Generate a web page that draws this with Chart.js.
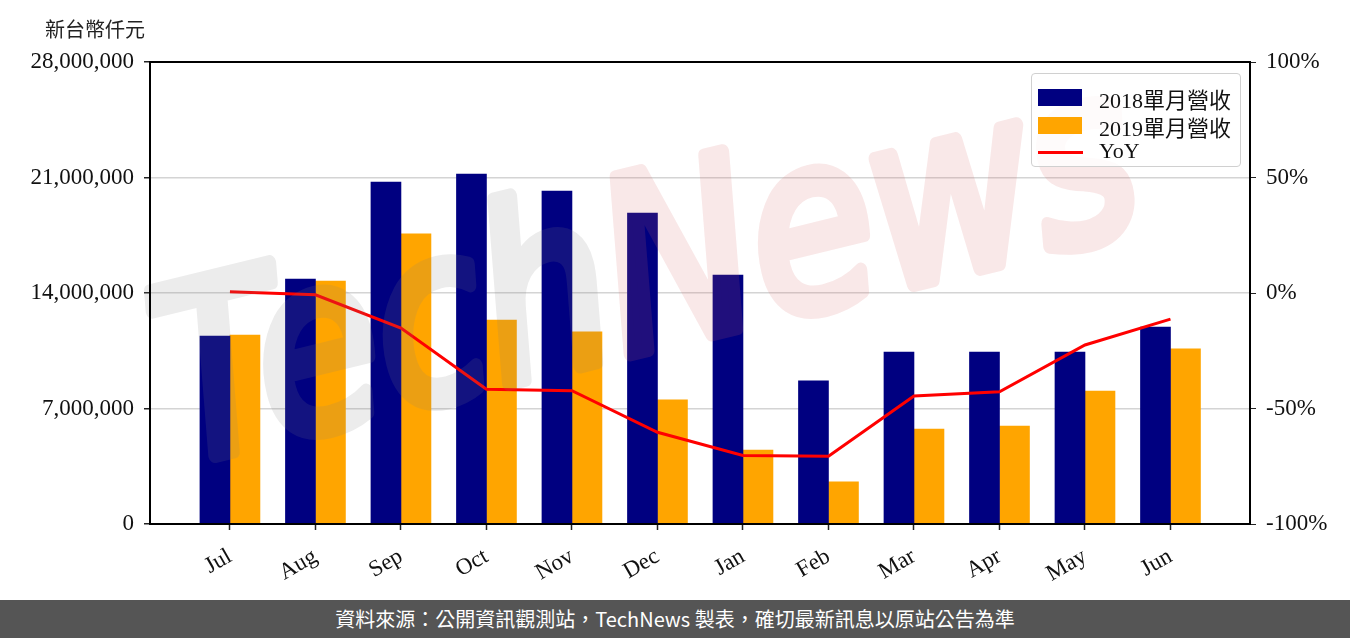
<!DOCTYPE html>
<html>
<head>
<meta charset="utf-8">
<script src="https://cdn.jsdelivr.net/npm/chart.js@4.4.1/dist/chart.umd.min.js"></script>
<style>
  body { margin: 0; background: #fff; width: 1350px; height: 638px; overflow: hidden; position: relative; }
  #wrap { position: absolute; left: 0; top: 0; width: 1350px; height: 600px; }
  #unit { position: absolute; left: 45px; top: 14px; font: 20px 'Noto Sans CJK TC'; color: #222; }
  #legend { position: absolute; left: 1031px; top: 73px; width: 208px; height: 92px; border: 1.5px solid #d0d0d0; border-radius: 4px; background: rgba(255,255,255,0.8); }
  .item { position: absolute; left: 6px; height: 28px; width: 200px; font: 22px 'Liberation Serif', 'Noto Sans CJK TC'; color: #111; }
  .item .sw { position: absolute; left: 0; }
  .item span { position: absolute; left: 61px; top: 0px; }
  #footer { position: absolute; left: 0; top: 600px; width: 1350px; height: 38px; background: #555; color: #fff; font: 20px 'Noto Sans CJK TC'; text-align: center; line-height: 38px; }
</style>
</head>
<body>
<div id="wrap"><canvas id="chart"></canvas></div>
<div id="unit">新台幣仟元</div>
<div id="legend"></div>
<div id="footer">資料來源：公開資訊觀測站，TechNews 製表，確切最新訊息以原站公告為準</div>
<script>
const months = ['Jul', 'Aug', 'Sep', 'Oct', 'Nov', 'Dec', 'Jan', 'Feb', 'Mar', 'Apr', 'May', 'Jun'];
const rev2018 = [11390000, 14850000, 20730000, 21210000, 20180000, 18850000, 15090000, 8670000, 10420000, 10420000, 10420000, 11940000];
const rev2019 = [11450000, 14730000, 17580000, 12360000, 11640000, 7520000, 4480000, 2550000, 5760000, 5940000, 8060000, 10610000];
const yoy = [0.5, -0.8, -15.2, -41.7, -42.3, -60.3, -70.3, -70.7, -44.6, -42.8, -22.5, -11.3];
const seriesNames = ['2018單月營收', '2019單月營收', 'YoY'];

const navy = '#000080';
const orange = '#ffa500';
const red = '#ff0000';
const serif = "'Liberation Serif', 'DejaVu Serif', serif";

// legend in html
const legend = document.getElementById('legend');
[[navy, 'box'], [orange, 'box'], [red, 'line']].forEach((s, i) => {
  const div = document.createElement('div');
  div.className = 'item';
  div.style.top = (8 + i * 28) + 'px';
  const sw = document.createElement('div');
  sw.className = 'sw';
  if (s[1] === 'box') {
    sw.style.cssText = `top:7px;width:44px;height:17px;background:${s[0]}`;
  } else {
    sw.style.cssText = `top:13px;width:45px;height:3px;background:${s[0]}`;
  }
  const t = document.createElement('span');
  t.textContent = seriesNames[i];
  div.appendChild(sw);
  div.appendChild(t);
  legend.appendChild(div);
});

const xy = arr => arr.map((v, i) => ({ x: i, y: v }));

// watermark drawn once on a side canvas, then laid over the plot with alpha
function makeMark(w, h) {
  const c = document.createElement('canvas');
  c.width = w; c.height = h;
  const g = c.getContext('2d');
  g.translate(650, 285);
  g.rotate(-0.24);
  g.scale(1.0, 1.2);
  g.font = "italic 200px 'DejaVu Sans'";
  g.textBaseline = 'middle';
  g.lineJoin = 'round';
  g.lineWidth = 12;
  const wT = g.measureText('Tech').width;
  const wN = g.measureText('News').width;
  const x0 = -(wT + wN) / 2;
  g.fillStyle = g.strokeStyle = '#808080';
  g.fillText('Tech', x0, 0);
  g.strokeText('Tech', x0, 0);
  g.fillStyle = g.strokeStyle = '#d76666';
  g.fillText('News', x0 + wT, 0);
  g.strokeText('News', x0 + wT, 0);
  return c;
}

// box round the plot + watermark
const frame = {
  id: 'frame',
  afterDraw(chart) {
    const { ctx, chartArea: a } = chart;
    ctx.save();
    ctx.globalAlpha = 0.15;
    ctx.drawImage(makeMark(chart.width, chart.height), 0, 0);
    ctx.restore();

    ctx.save();
    ctx.strokeStyle = '#000';
    ctx.lineWidth = 2;
    ctx.strokeRect(a.left, a.top, a.right - a.left, a.bottom - a.top);
    ctx.restore();
  }
};

new Chart(document.getElementById('chart'), {
  type: 'bar',
  data: {
    datasets: [
      { type: 'line', label: seriesNames[2], data: xy(yoy), yAxisID: 'y1', borderColor: red, borderWidth: 3, pointRadius: 0, order: 0 },
      { label: seriesNames[0], data: xy(rev2018), backgroundColor: navy, barThickness: 30, order: 1 },
      { label: seriesNames[1], data: xy(rev2019), backgroundColor: orange, barThickness: 30, order: 1 }
    ]
  },
  options: {
    responsive: true,
    maintainAspectRatio: false,
    animation: false,
    layout: { padding: { top: 62, left: 0, right: 0, bottom: 0 } },
    plugins: { legend: { display: false }, tooltip: { enabled: false } },
    scales: {
      x: {
        type: 'linear',
        min: -0.935,
        max: 11.93,
        offset: false,
        border: { color: '#000', width: 2 },
        grid: { offset: false, drawOnChartArea: false, tickLength: 6, tickColor: '#222', tickWidth: 1.5 },
        ticks: {
          stepSize: 1,
          includeBounds: false,
          autoSkip: false,
          maxRotation: 30,
          minRotation: 30,
          padding: 13,
          color: '#111',
          font: { family: serif, size: 23 },
          callback: v => {
            const i = Math.round(v);
            return Math.abs(v - i) < 1e-6 && months[i] ? months[i] : '';
          }
        },
        afterFit: s => { s.height = 76; }
      },
      y: {
        min: 0,
        max: 28000000,
        border: { color: '#000', width: 2 },
        grid: { color: '#d4d4d4', lineWidth: 1.5, tickColor: '#222', tickLength: 6 },
        ticks: {
          stepSize: 7000000,
          padding: 10,
          color: '#111',
          font: { family: serif, size: 23 },
          callback: v => v.toLocaleString('en-US')
        },
        afterFit: s => { s.width = 150; }
      },
      y1: {
        position: 'right',
        min: -100,
        max: 100,
        border: { color: '#000', width: 2 },
        grid: { drawOnChartArea: false, tickColor: '#222', tickLength: 6 },
        ticks: {
          stepSize: 50,
          padding: 10,
          color: '#111',
          font: { family: serif, size: 23 },
          callback: v => v + '%'
        },
        afterFit: s => { s.width = 100; }
      }
    }
  },
  plugins: [frame]
});
</script>
</body>
</html>
